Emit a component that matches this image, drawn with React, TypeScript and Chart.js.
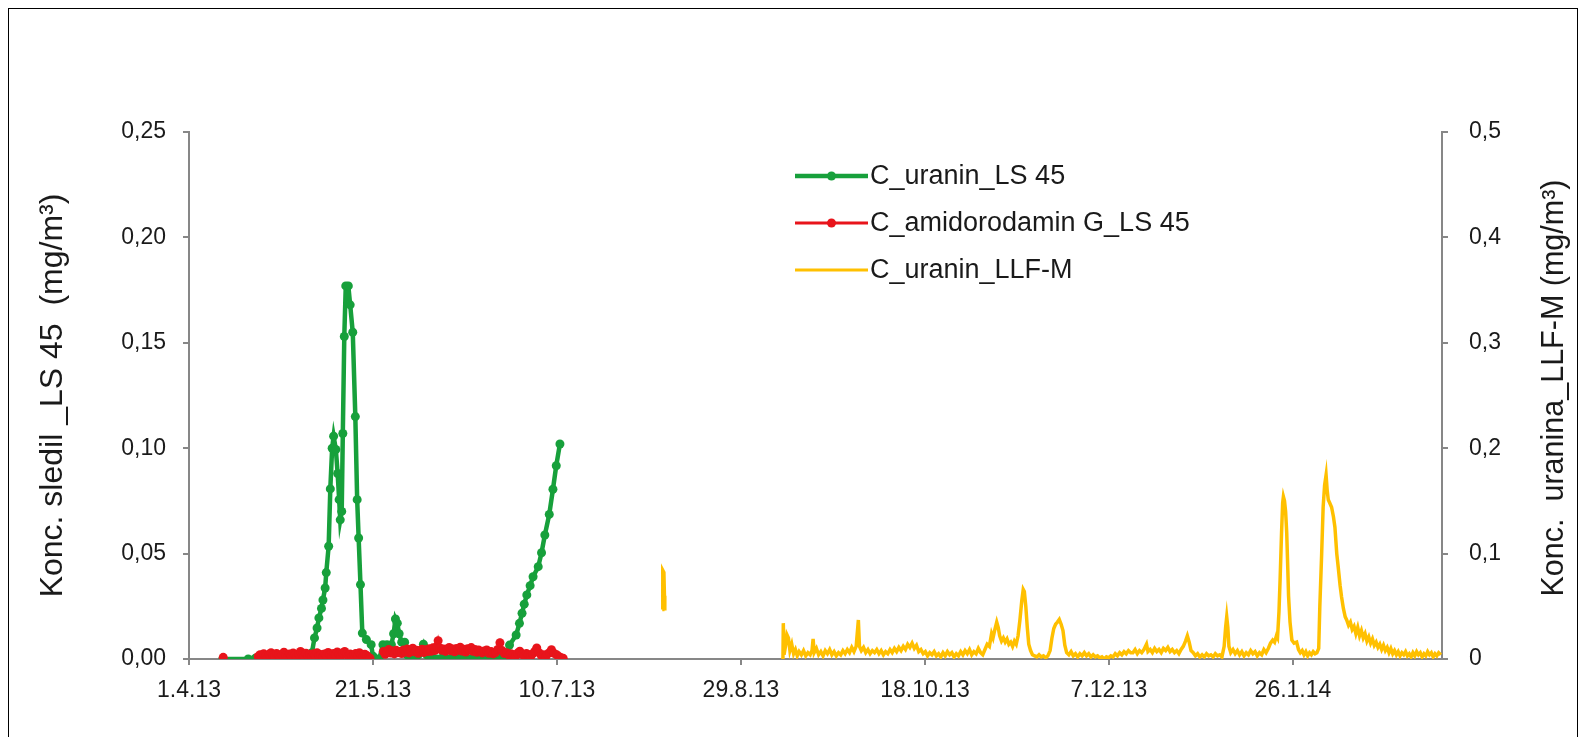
import React, { useEffect, useRef } from "react";
import { Chart, registerables } from "chart.js";

Chart.register(...registerables);

// x values are days counted from 1.4.13
const X_TICK_LABELS = ["1.4.13", "21.5.13", "10.7.13", "29.8.13", "18.10.13", "7.12.13", "26.1.14"];
const Y_LEFT_LABELS = ["0,00", "0,05", "0,10", "0,15", "0,20", "0,25"];
const Y_RIGHT_LABELS = ["0", "0,1", "0,2", "0,3", "0,4", "0,5"];

const SERIES_NAMES = ["C_uranin_LS 45", "C_amidorodamin G_LS 45", "C_uranin_LLF-M"];
const LEFT_TITLE = "Konc. sledil _LS 45  (mg/m³)";
const RIGHT_TITLE = "Konc.  uranina_LLF-M (mg/m³)";

const greenDays = [
  9.2, 16.1, 18, 20, 22, 24, 26, 28, 30, 32, 33.4, 34.1, 34.8, 35.3, 36.0, 36.4, 37.0, 37.3, 37.95, 38.4,
  38.9, 39.3, 39.9, 40.4, 40.8, 41.1, 41.5, 41.8, 42.2, 42.6, 43.3, 43.8, 44.5, 45.2, 45.7, 46.1, 46.6, 47.1,
  48.2, 49.5, 50.0, 50.8, 51.7, 52.7, 53.8, 55.0, 55.6, 56.1, 56.6, 57.1, 57.8, 58.6, 59.3, 60.2, 61.2, 62.3,
  63.7, 64.6, 66, 67.5, 69, 70.5, 72, 73.5, 75, 76.5, 78, 79.5, 81, 82.5, 84, 85.5, 86.4, 87.1, 88.9, 89.8,
  90.5, 91.1, 91.8, 92.7, 93.5, 94.9, 95.8, 96.7, 97.9, 98.9, 99.8, 100.8,
];
const greenValues = [
  0, 0, 0.0003, 0, 0.0004, 0, 0.0005, 0, 0.0004, 0.0002, 0.003, 0.01, 0.0147, 0.0195, 0.024, 0.028, 0.0337,
  0.041, 0.0535, 0.0807, 0.1, 0.1057, 0.0994, 0.088, 0.0756, 0.066, 0.07, 0.107, 0.153, 0.177, 0.177, 0.168,
  0.155, 0.115, 0.0756, 0.0574, 0.0353, 0.0123, 0.0092, 0.0068, 0.0013, 0, 0, 0.0068, 0.0068, 0.0068, 0.012,
  0.019, 0.017, 0.012, 0.008, 0.008, 0.002, 0, 0.001, 0.002, 0.007, 0.002, 0.001, 0, 0.001, 0, 0.001, 0.0005,
  0.001, 0, 0.001, 0.0005, 0, 0.001, 0.0005, 0.001, 0.002, 0.0066, 0.0114, 0.0169, 0.0217, 0.026, 0.0304,
  0.0348, 0.039, 0.0438, 0.0504, 0.0588, 0.0686, 0.0805, 0.0917, 0.102,
];

const redDays = [
  9.3, 14,
  18.8, 19.3, 19.8, 20.3, 20.8, 21.3, 21.8, 22.3, 22.8, 23.3, 23.8, 24.3, 24.8, 25.3, 25.8, 26.3, 26.8, 27.3,
  27.8, 28.3, 28.8, 29.3, 29.8, 30.3, 30.8, 31.3, 31.8, 32.3, 32.8, 33.3, 33.8, 34.3, 34.8, 35.3, 35.8, 36.3,
  36.8, 37.3, 37.8, 38.3, 38.8, 39.3, 39.8, 40.3, 40.8, 41.3, 41.8, 42.3, 42.8, 43.3, 43.8, 44.3, 44.8, 45.3,
  45.8, 46.3, 46.8, 47.3, 47.8, 48.3, 48.8, 49.2, 51,
  52.8, 53.3, 53.8, 54.3, 54.8, 55.3, 55.8, 56.3, 56.8, 57.3, 57.8, 58.3, 58.8, 59.3, 59.8, 60.3, 60.8, 61.3,
  61.8, 62.3, 62.8, 63.3, 63.8, 64.3, 64.8, 65.3, 65.8, 66.3, 66.8, 67.3, 67.7, 68.2, 68.7, 69.2, 69.7, 70.2,
  70.7, 71.2, 71.7, 72.2, 72.7, 73.2, 73.7, 74.2, 74.7, 75.2, 75.7, 76.2, 76.7, 77.2, 77.7, 78.2, 78.7, 79.2,
  79.7, 80.2, 80.9, 81.5, 82.1, 82.7, 83.3, 83.9, 84.5, 85.1, 85.7, 86.3, 87.0, 87.5, 88.1, 88.7, 89.3, 89.9,
  90.5, 91.1, 91.7, 92.2, 92.8, 93.4, 93.9, 94.5, 95.1, 95.7, 96.3, 96.9, 97.4, 98.0, 98.5, 99.2, 99.9, 100.5,
  101.1, 101.7,
];
const redValues = [
  0.0008, null,
  0.0012, 0.002, 0.001, 0.0025, 0.0015, 0.0008, 0.0022, 0.003, 0.0018, 0.0012, 0.0026, 0.0019, 0.0009, 0.0021,
  0.0032, 0.0017, 0.0011, 0.0024, 0.0015, 0.0029, 0.002, 0.001, 0.0023, 0.0036, 0.0019, 0.0013, 0.0027, 0.0016,
  0.0022, 0.0011, 0.0025, 0.0018, 0.003, 0.0014, 0.0021, 0.0009, 0.0024, 0.0017, 0.0031, 0.002, 0.0012, 0.0026,
  0.0019, 0.0033, 0.0022, 0.0014, 0.0028, 0.0036, 0.0021, 0.0015, 0.0024, 0.0011, 0.0019, 0.0026, 0.0016, 0.003,
  0.002, 0.0013, 0.0023, 0.0017, 0.0008, 0.0004, null,
  0.0035, 0.0022, 0.0031, 0.0045, 0.0028, 0.0038, 0.0024, 0.0041, 0.003, 0.0036, 0.0026, 0.0043, 0.0033, 0.0047,
  0.0029, 0.0038, 0.0051, 0.0034, 0.0042, 0.0027, 0.0039, 0.0046, 0.0031, 0.0044, 0.0035, 0.0049, 0.0037, 0.0053,
  0.004, 0.0058, 0.0087, 0.0052, 0.0041, 0.0048, 0.0036, 0.0045, 0.0055, 0.0039, 0.0047, 0.0034, 0.005, 0.0042,
  0.0056, 0.0038, 0.0046, 0.0033, 0.0049, 0.0041, 0.0054, 0.0037, 0.0045, 0.0032, 0.0043, 0.0036, 0.0029, 0.0038,
  0.0043, 0.0027, 0.0035, 0.0024, 0.0031, 0.0045, 0.0077, 0.004, 0.0026, 0.003, 0.0018, 0.0025, 0.002, 0.0012,
  0.0028, 0.0037, 0.0022, 0.0014, 0.0026, 0.002, 0.0011, 0.0024, 0.0035, 0.0052, 0.003, 0.0018, 0.002, 0.0009,
  0.0023, 0.0031, 0.0044, 0.0027, 0.002, 0.0012, 0.0006, 0.0003,
];

const yellowDays = [
  128.6, 128.75, 129.05, 129.2, 129.3, 145,
  161.4, 161.5, 161.7, 162.1, 162.5, 162.9, 163.3, 163.8, 164.3, 164.8, 165.3, 165.8, 166.4, 167.0, 167.6, 168.2,
  168.8, 169.3, 169.6, 169.9, 170.5, 171.1, 171.7, 172.3, 172.9, 173.5, 174.1, 174.7, 175.3, 175.9, 176.5, 177.1,
  177.7, 178.3, 178.9, 179.5, 180.1, 180.7, 181.3, 181.9, 182.2, 182.7, 183.3, 183.9, 184.5, 185.1, 185.7, 186.3,
  186.9, 187.5, 188.1, 188.7, 189.3, 189.9, 190.5, 191.1, 191.7, 192.3, 192.9, 193.5, 194.1, 194.7, 195.3, 195.9,
  196.5, 197.1, 197.7, 198.3, 198.9, 199.5, 200.1, 200.7, 201.3, 201.9, 202.5, 203.1, 203.7, 204.3, 204.9, 205.5,
  206.1, 206.7, 207.3, 207.9, 208.5, 209.1, 209.7, 210.3, 210.9, 211.5, 212.1, 212.7, 213.3, 213.9, 214.5, 215.1,
  215.7, 216.3, 216.9, 217.5, 218.1, 218.5, 219.0, 219.5, 219.9, 220.3, 220.8, 221.3, 221.8, 222.3, 222.8, 223.3,
  223.8, 224.3, 224.8, 225.3, 225.8, 226.3, 226.7, 227.0, 227.4, 227.8, 228.2, 228.7, 229.2, 229.8, 230.4, 231.0,
  231.6, 232.2, 232.8, 233.4, 234.0, 234.5, 235.0, 235.5, 236.0, 236.5, 237.0, 237.5, 238.0, 238.5, 239.1, 239.7,
  240.3, 240.9, 241.5, 242.1, 242.7, 243.3, 243.9, 244.5, 245.1, 245.7, 246.3, 246.9, 247.5, 248.1, 248.7, 249.3,
  249.9, 250.5, 251.1, 251.7, 252.3, 252.9, 253.5, 254.1, 254.7, 255.3, 255.9, 256.5, 257.1, 257.7, 258.3, 258.9,
  259.5, 260.2, 260.6, 261.2, 261.8, 262.4, 263.0, 263.6, 264.2, 264.8, 265.4, 266.0, 266.6, 267.2, 267.8, 268.4,
  269.0, 269.6, 270.2, 270.8, 271.3, 271.8, 272.3, 272.9, 273.5, 274.1, 274.7, 275.3, 275.9, 276.5, 277.1, 277.7,
  278.3, 278.9, 279.5, 280.1, 280.7, 281.3, 281.7, 282.0, 282.3, 282.6, 283.1, 283.7, 284.3, 284.9, 285.5, 286.1,
  286.7, 287.3, 287.9, 288.5, 289.1, 289.7, 290.3, 290.9, 291.5, 292.1, 292.7, 293.3, 293.9, 294.5, 295.0, 295.5,
  295.8, 296.2, 296.5, 296.9, 297.2, 297.4, 297.7, 298.0, 298.3, 298.6, 298.8, 299.2, 299.7, 300.3, 301.0, 301.5,
  302.0, 302.5, 303.0, 303.5, 304.0, 304.5, 305.0, 305.5, 306.0, 306.5, 307.0, 307.3, 307.8, 308.2, 308.6, 309.0,
  309.3, 309.6, 310.0, 310.5, 311.0, 311.4, 311.9, 312.3, 312.8, 313.2, 313.7, 314.2, 314.6, 315.1, 315.6, 316.1,
  316.6, 317.1, 317.6, 318.1, 318.6, 319.1, 319.6, 320.1, 320.6, 321.1, 321.6, 322.1, 322.6, 323.1, 323.6, 324.1,
  324.6, 325.1, 325.6, 326.1, 326.6, 327.1, 327.6, 328.1, 328.6, 329.1, 329.6, 330.1, 330.6, 331.1, 331.6, 332.1,
  332.6, 333.1, 333.6, 334.1, 334.6, 335.1, 335.6, 336.1, 336.6, 337.1, 337.6, 338.1, 338.6, 339.1, 339.6, 340.2,
];
const yellowValues = [
  0.047, 0.084, 0.082, 0.06, 0.046, null,
  0.0, 0.034, 0.004, 0.012, 0.023, 0.02, 0.008, 0.014, 0.005, 0.009, 0.003, 0.007, 0.004, 0.008, 0.003, 0.006,
  0.004, 0.008, 0.019, 0.006, 0.01, 0.004, 0.007, 0.003, 0.008, 0.005, 0.009, 0.004, 0.007, 0.003, 0.006, 0.004,
  0.008, 0.005, 0.009, 0.006, 0.011, 0.007, 0.012, 0.037, 0.012, 0.008, 0.011, 0.006, 0.009, 0.005, 0.008, 0.006,
  0.009, 0.005, 0.008, 0.004, 0.007, 0.005, 0.009, 0.006, 0.01, 0.007, 0.011, 0.008, 0.012, 0.009, 0.014, 0.011,
  0.015, 0.01, 0.013, 0.007, 0.009, 0.005, 0.007, 0.003, 0.006, 0.004, 0.007, 0.003, 0.005, 0.002, 0.006, 0.003,
  0.007, 0.004, 0.006, 0.002, 0.005, 0.003, 0.007, 0.004, 0.008, 0.005, 0.009, 0.004, 0.007, 0.005, 0.01, 0.006,
  0.004, 0.009, 0.014, 0.012, 0.024, 0.02, 0.028, 0.035, 0.03, 0.022, 0.017, 0.02, 0.016, 0.019, 0.014, 0.016,
  0.012, 0.017, 0.014, 0.022, 0.037, 0.055, 0.066, 0.064, 0.05, 0.03, 0.014, 0.008, 0.004, 0.003, 0.002, 0.004,
  0.002, 0.003, 0.001, 0.003, 0.008, 0.02, 0.029, 0.033, 0.035, 0.0375, 0.033, 0.027, 0.013, 0.006, 0.004, 0.007,
  0.003, 0.005, 0.002, 0.005, 0.003, 0.006, 0.003, 0.005, 0.002, 0.004, 0.002, 0.003, 0.001, 0.002, 0.0, 0.002,
  0.001, 0.003, 0.002, 0.005, 0.003, 0.006, 0.004, 0.007, 0.005, 0.008, 0.006, 0.006, 0.009, 0.005, 0.008, 0.006,
  0.009, 0.014, 0.007, 0.009, 0.006, 0.01, 0.007, 0.009, 0.006, 0.01, 0.008, 0.011, 0.007, 0.009, 0.006, 0.008,
  0.005, 0.009, 0.012, 0.017, 0.022, 0.016, 0.008, 0.006, 0.003, 0.005, 0.002, 0.004, 0.002, 0.005, 0.003, 0.004,
  0.002, 0.005, 0.003, 0.004, 0.002, 0.012, 0.03, 0.04, 0.03, 0.012, 0.006, 0.009, 0.005, 0.008, 0.004, 0.007,
  0.003, 0.006, 0.004, 0.008, 0.005, 0.007, 0.003, 0.006, 0.004, 0.009, 0.006, 0.01, 0.015, 0.018, 0.016, 0.022,
  0.02, 0.045, 0.075, 0.12, 0.148, 0.154, 0.15, 0.14, 0.12, 0.085, 0.06, 0.035, 0.018, 0.015, 0.016, 0.009,
  0.006, 0.008, 0.004, 0.007, 0.003, 0.006, 0.004, 0.007, 0.005, 0.006, 0.01, 0.05, 0.1, 0.144, 0.165, 0.1746,
  0.16, 0.151, 0.148, 0.144, 0.135, 0.125, 0.1, 0.087, 0.07, 0.059, 0.048, 0.04, 0.037, 0.032, 0.035, 0.028,
  0.031, 0.024, 0.03, 0.022, 0.027, 0.02, 0.024, 0.017, 0.021, 0.015, 0.019, 0.013, 0.016, 0.011, 0.014, 0.009,
  0.013, 0.008, 0.011, 0.006, 0.01, 0.005, 0.008, 0.004, 0.007, 0.003, 0.006, 0.004, 0.007, 0.003, 0.005, 0.002,
  0.006, 0.003, 0.007, 0.004, 0.006, 0.002, 0.005, 0.003, 0.007, 0.004, 0.006, 0.002, 0.005, 0.003, 0.006, 0.004,
];

const GREEN = "#17a03b";
const RED = "#e8141b";
const YELLOW = "#ffc000";
const AXIS = "#878787";
const TEXT = "#1a1a1a";
const FONT = "'Liberation Sans', Arial, sans-serif";

const toPoints = (xs: number[], ys: (number | null)[]) => xs.map((x, i) => ({ x, y: ys[i] }));

const overlayPlugin = {
  id: "overlay",
  afterDraw(chart: any) {
    const { ctx } = chart;
    ctx.save();
    // right axis title (reads bottom to top)
    ctx.fillStyle = TEXT;
    ctx.font = `30.5px ${FONT}`;
    ctx.textAlign = "center";
    ctx.textBaseline = "middle";
    ctx.translate(1555, 388);
    ctx.rotate(-Math.PI / 2);
    ctx.fillText(RIGHT_TITLE, 0, 0);
    ctx.restore();

    // legend inside the plot
    ctx.save();
    const x0 = 795;
    const x1 = 868;
    const ys = [176, 223, 270];
    const widths = [4.5, 3, 3];
    chart.data.datasets.forEach((ds: any, i: number) => {
      const y = ys[i];
      ctx.strokeStyle = ds.borderColor;
      ctx.lineWidth = widths[i];
      ctx.beginPath();
      ctx.moveTo(x0, y);
      ctx.lineTo(x1, y);
      ctx.stroke();
      if (ds.pointRadius > 0) {
        ctx.fillStyle = ds.borderColor;
        ctx.beginPath();
        ctx.arc((x0 + x1) / 2, y, 4.5, 0, Math.PI * 2);
        ctx.fill();
      }
      ctx.fillStyle = TEXT;
      ctx.font = `27px ${FONT}`;
      ctx.textAlign = "left";
      ctx.textBaseline = "middle";
      ctx.fillText(ds.label, x1 + 2, y + 1);
    });
    ctx.restore();
  },
};

export default function App() {
  const ref = useRef<HTMLCanvasElement | null>(null);

  useEffect(() => {
    if (!ref.current) return;
    const chart = new Chart(ref.current, {
      type: "line",
      data: {
        datasets: [
          {
            label: SERIES_NAMES[0],
            data: toPoints(greenDays, greenValues),
            borderColor: GREEN,
            backgroundColor: GREEN,
            pointBackgroundColor: GREEN,
            borderWidth: 4.5,
            pointRadius: 4.5,
            pointBorderWidth: 0,
            yAxisID: "y",
            order: 1,
          },
          {
            label: SERIES_NAMES[1],
            data: toPoints(redDays, redValues),
            borderColor: RED,
            backgroundColor: RED,
            pointBackgroundColor: RED,
            borderWidth: 3,
            pointRadius: 4.5,
            pointBorderWidth: 0,
            yAxisID: "y",
            order: 0,
          },
          {
            label: SERIES_NAMES[2],
            data: toPoints(yellowDays, yellowValues),
            borderColor: YELLOW,
            backgroundColor: YELLOW,
            borderWidth: 3.5,
            pointRadius: 0,
            yAxisID: "y2",
            order: 2,
          },
        ],
      },
      options: {
        animation: false,
        responsive: false,
        devicePixelRatio: 1,
        events: [],
        spanGaps: false,
        layout: { padding: { top: 132, left: 0, right: 0, bottom: 0 } },
        plugins: { legend: { display: false }, tooltip: { enabled: false } },
        scales: {
          x: {
            type: "linear",
            min: 0,
            max: 340.5,
            afterFit: (s: any) => {
              s.height = 78;
            },
            ticks: {
              stepSize: 50,
              includeBounds: false,
              autoSkip: false,
              maxRotation: 0,
              padding: 12,
              color: TEXT,
              font: { family: FONT, size: 23 },
              callback: (v: any) => X_TICK_LABELS[Math.round(Number(v) / 50)] ?? "",
            },
            grid: { drawOnChartArea: false, drawTicks: true, tickLength: 6, color: AXIS, lineWidth: 2 },
            border: { display: true, color: AXIS, width: 2 },
          },
          y: {
            type: "linear",
            position: "left",
            min: 0,
            max: 0.25,
            afterFit: (s: any) => {
              s.width = 189;
            },
            ticks: {
              stepSize: 0.05,
              padding: 17,
              color: TEXT,
              font: { family: FONT, size: 23 },
              callback: (v: any) => Y_LEFT_LABELS[Math.round(Number(v) / 0.05)] ?? "",
            },
            title: {
              display: true,
              text: LEFT_TITLE,
              color: TEXT,
              font: { family: FONT, size: 32 },
              padding: { top: 34, bottom: 0 },
            },
            grid: { drawOnChartArea: false, drawTicks: true, tickLength: 6, color: AXIS, lineWidth: 2 },
            border: { display: true, color: AXIS, width: 2 },
          },
          y2: {
            type: "linear",
            position: "right",
            min: 0,
            max: 0.5,
            afterFit: (s: any) => {
              s.width = 136;
            },
            ticks: {
              stepSize: 0.1,
              padding: 21,
              color: TEXT,
              font: { family: FONT, size: 23 },
              callback: (v: any) => Y_RIGHT_LABELS[Math.round(Number(v) / 0.1)] ?? "",
            },
            grid: { drawOnChartArea: false, drawTicks: true, tickLength: 6, color: AXIS, lineWidth: 2 },
            border: { display: true, color: AXIS, width: 2 },
          },
        },
      },
      plugins: [overlayPlugin],
    });
    return () => chart.destroy();
  }, []);

  return (
    <div style={{ position: "absolute", left: 0, top: 0, width: 1578, height: 737, overflow: "hidden", background: "#fff" }}>
      <div
        style={{
          position: "absolute",
          left: 8,
          top: 8,
          width: 1570,
          height: 780,
          border: "1px solid #000",
          boxSizing: "border-box",
        }}
      />
      <canvas ref={ref} width={1578} height={737} style={{ position: "absolute", left: 0, top: 0, width: 1578, height: 737 }} />
    </div>
  );
}
